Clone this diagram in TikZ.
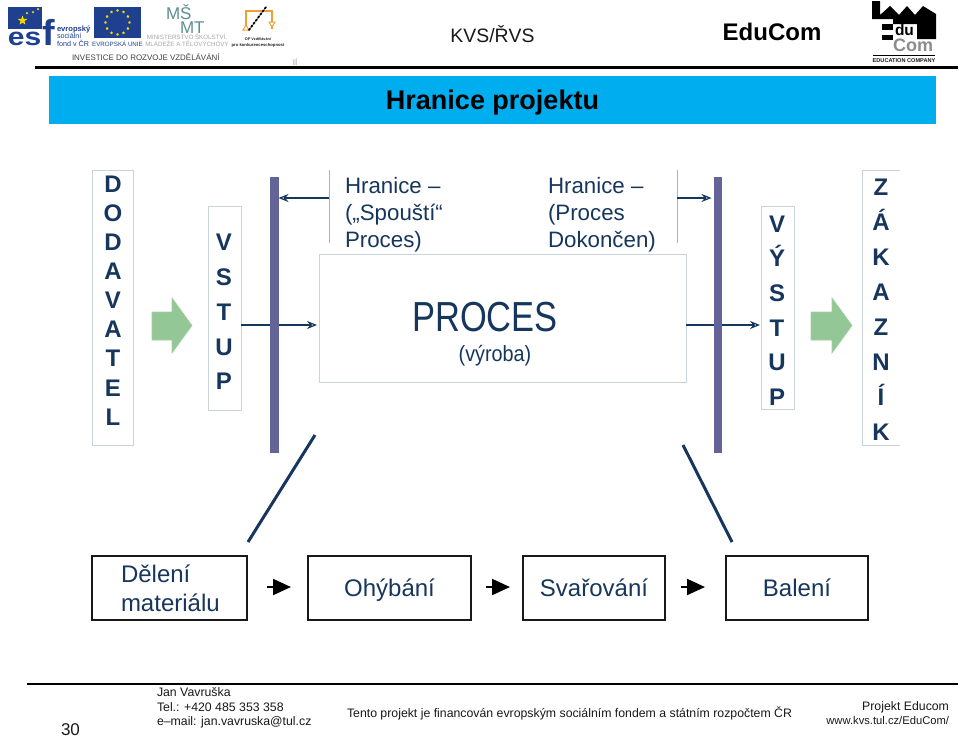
\documentclass[tikz,border=0pt]{standalone}
\usepackage{fontspec}
\setmainfont{Liberation Sans}
\usetikzlibrary{arrows.meta,shapes.geometric}
\definecolor{navy}{HTML}{17365D}
\definecolor{barc}{HTML}{646498}
\definecolor{greenarr}{HTML}{93C795}
\definecolor{greenedge}{HTML}{A5CFA6}
\definecolor{boxgrey}{HTML}{C9D3DA}
\definecolor{band}{HTML}{00ADEF}
\definecolor{esfblue}{HTML}{1F3F8F}
\definecolor{euyellow}{HTML}{F5D800}
\definecolor{msmt}{HTML}{5F8F93}
\definecolor{oporange}{HTML}{F0A030}
\newcommand{\fsz}[2]{\fontsize{#1}{#2}\selectfont}
\tikzset{
 every node/.style={inner sep=0pt,outer sep=0pt},
 greybox/.style={draw=boxgrey,line width=0.9pt,fill=white,minimum width=#1,anchor=north west},
 lettercol/.style={font=\fsz{24}{#1}\bfseries,text=navy,align=center},
 bar/.style={fill=barc,draw=none,anchor=north west},
 thinrule/.style={draw=boxgrey!85!black,line width=0.9pt},
 navyline/.style={draw=navy,line width=3pt},
 openarrow/.style={draw=navy,line width=2.3pt,-{Stealth[open,length=10pt,width=8pt,fill=white,line width=1.2pt]}},
 blackarrow/.style={draw=black,line width=2pt,-{Triangle[length=18pt,width=16pt]}},
 stepbox/.style={draw=black!90,line width=2pt,fill=white,anchor=north west,minimum height=64pt,font=\fsz{24}{29},text=navy},
 steptext/.style={text height=20pt,text depth=4pt,align=center},
 bigtext/.style={font=\fsz{22.3}{27},text=navy,align=left,anchor=north west},
 bigarrow/.style={fill=greenarr,draw=greenedge,line width=0.7pt},
 foot/.style={anchor=base west,font=\fsz{12.3}{15},text=black!90},
 footr/.style={anchor=base east,text=black!90},
 headrule/.style={draw=black,line width=2.4pt},
}
\begin{document}
\begin{tikzpicture}[x=1pt,y=-1pt]
\useasboundingbox[fill=white] (0,0) rectangle (960,737);
% ---- ESF logo
\fill[esfblue] (8,7) rectangle (42,29);
\node[star,star points=5,star point ratio=2.4,fill=euyellow,minimum size=10pt] (esfstar) at (22.5,20.5) {};
\node[circle,fill=euyellow,minimum size=2.5pt] (sa) at (27,13) {};
\node[circle,fill=euyellow,minimum size=2.5pt] (sb) at (33,12) {};
\node[circle,fill=euyellow,minimum size=2.5pt] (sc) at (38,9) {};
\node[anchor=base west,font=\fsz{25}{25}\bfseries,text=esfblue,xscale=1.2] (esfa) at (8,45) {es};
\node[anchor=base west,font=\fsz{36}{36}\bfseries,text=esfblue,xscale=1.05] (esfb) at (42,45) {f};
\node[anchor=base west,font=\fsz{7.6}{9}\bfseries,text=esfblue] (esf1) at (57,31) {evropský};
\node[anchor=base west,font=\fsz{7.2}{9},text=esfblue] (esf2) at (57,38) {sociální};
\node[anchor=base west,font=\fsz{7.2}{9},text=esfblue] (esf3) at (57,46.5) {fond v ČR};
% ---- EU flag
\fill[esfblue] (94,7) rectangle (141,38);
\foreach \a in {0,30,...,330}{\node[star,star points=5,fill=euyellow,minimum size=3pt] at ({117.5+12*cos(\a)},{22.5+12*sin(\a)}) {};}
\node[font=\fsz{6.2}{7},text=esfblue] (eu) at (117.5,43.5) {EVROPSKÁ UNIE};
% ---- MSMT
\node[anchor=base west,font=\fsz{17}{17},text=msmt] (msmta) at (166,19.5) {MŠ};
\node[anchor=base west,font=\fsz{17}{17},text=msmt] (msmtb) at (180,33) {MT};
\node[font=\fsz{6.2}{6.5},text=black!35,align=center] (msmttext) at (187,40.3) {MINISTERSTVO ŠKOLSTVÍ,\\MLÁDEŽE A TĚLOVÝCHOVY};
% ---- OP
\draw[oporange,line width=2.4pt] (246,29) -- (246,11) -- (272,11) -- (272,29);
\fill[white,draw=oporange,line width=1pt] (243,30) -- (246,25) -- (249,30) -- cycle;
\fill[white,draw=oporange,line width=1pt] (269,22) -- (272,27) -- (275,22) -- cycle;
\draw[black,line width=1.8pt,dotted,line cap=round] (249,30) -- (266,7);
\node[font=\fsz{3.8}{5}\bfseries,text=black!85,align=center] (optext) at (258,42.5) {OP Vzdělávání\\[0.4pt]\fsz{4.2}{5}\bfseries pro konkurenceschopnost};
\node[anchor=base west,font=\fsz{7.95}{10},text=black!75] (invest) at (72,60) {INVESTICE DO ROZVOJE VZDĚLÁVÁNÍ};
\node[anchor=base,font=\fsz{8}{9},text=black!40] (ii) at (295,65) {IÍ};
% ---- EduCom logo
\fill[black] (872,1) -- (880,1) -- (880,15) -- (890,6) -- (899,15) -- (907,6) -- (915,15) -- (923,6) -- (936,14) -- (936,39) -- (917,39) -- (917,24) -- (893,24) -- (893,19) -- (872,19) -- cycle;
\fill[black] (882,24) rectangle (893,30);
\fill[black] (882,35) rectangle (893,40);
\node[anchor=base west,font=\fsz{15.5}{16}\bfseries,text=black] (dulogo) at (895,35) {du};
\node[anchor=base west,font=\fsz{18}{18}\bfseries,text=black!45] (comlogo) at (893,51) {Com};
\draw[black,line width=0.6pt] (873,55) -- (935,55);
\node[font=\fsz{5.6}{6}\bfseries,text=black!90] (edutxt) at (904,60.5) {EDUCATION COMPANY};
% ---- header
\node[font=\fsz{19.4}{24},text=black!90] (kvs) at (492.5,34.5) {KVS/ŘVS};
\node[font=\fsz{24}{28}\bfseries,text=black] (educom) at (772,32) {EduCom};
\coordinate (hl) at (35,67.5); \coordinate (hr) at (958,67.5);
\draw[headrule] (hl) -- (hr);
\node[fill=band,anchor=north west,minimum width=887pt,minimum height=48pt] (titleband) at (49,76) {};
\node[font=\fsz{27}{32}\bfseries,text=black] (title) at (492.5,103) {Hranice projektu};
% ---- boxes with letters
\node[greybox=41pt,minimum height=275pt] (dod) at (92,170) {};
\node[lettercol=29.1] (dodt) at (113,300.5) {D\\O\\D\\A\\V\\A\\T\\E\\L};
\node[greybox=33pt,minimum height=204pt] (vst) at (208,206) {};
\node[lettercol=34.8] (vstt) at (224,312) {V\\S\\T\\U\\P};
\node[greybox=33pt,minimum height=203pt] (vys) at (761,206) {};
\node[lettercol=34.6] (vyst) at (777,310.5) {V\\Ý\\S\\T\\U\\P};
\coordinate (zt) at (900,170); \coordinate (zb) at (900,445);
\coordinate (zl1) at (862,170); \coordinate (zl2) at (862,445);
\draw[boxgrey,line width=0.9pt] (zt) -- (zl1) -- (zl2) -- (zb);
\node[lettercol=35] (zakt) at (881,310) {Z\\Á\\K\\A\\Z\\N\\Í\\K};
% ---- green arrows
\draw[bigarrow] (152,312) -- (172,312) -- (172,298) -- (192,325.5) -- (172,353) -- (172,340) -- (152,340) -- cycle;
\draw[bigarrow] (811,312) -- (832,312) -- (832,298) -- (852,325.5) -- (832,353) -- (832,340) -- (811,340) -- cycle;
% ---- process box
\node[greybox=367pt,minimum height=128pt] (proc) at (319,254) {};
\node[font=\fsz{42}{46},text=navy,xscale=0.82] (proct) at (485,317) {PROCES};
\node[font=\fsz{22}{26},text=navy,xscale=0.9] (vyr) at (495,356) {(výroba)};
% ---- bars
\node[bar,minimum width=8.5pt,minimum height=276pt] (barl) at (270,177) {};
\node[bar,minimum width=8.5pt,minimum height=276pt] (barr) at (713.5,177) {};
% ---- Hranice texts and rules
\coordinate (rl1) at (329,170); \coordinate (rl2) at (329,243);
\coordinate (rr1) at (677,170); \coordinate (rr2) at (677,243);
\draw[thinrule] (rl1) -- (rl2);
\draw[thinrule] (rr1) -- (rr2);
\node[bigtext] (hr1) at (345,177.5) {Hranice –\\(„Spouští“\\Proces)};
\node[bigtext] (hr2) at (548,177.5) {Hranice –\\(Proces\\Dokončen)};
\coordinate (ah) at (0,198); \coordinate (am) at (0,325);
\draw[openarrow] (rl1 |- ah) -- (barl.east |- ah);
\draw[openarrow] (rr1 |- ah) -- ([xshift=-2pt]barr.west |- ah);
\draw[openarrow] (vst.east |- am) -- ([xshift=-2pt]proc.west |- am);
\draw[openarrow] (proc.east |- am) -- ([xshift=-1pt]vys.west |- am);
\fill[barc] (barl.north west) rectangle (barl.south east);
\fill[barc] (barr.north west) rectangle (barr.south east);
% ---- step boxes
\node[stepbox,minimum width=155pt,text width=97pt,align=left] (s1) at (92,556) {Dělení\\materiálu};
\node[stepbox,steptext,minimum width=163pt] (s2) at (308,556) {Ohýbání};
\node[stepbox,steptext,minimum width=142pt] (s3) at (523,556) {Svařování};
\node[stepbox,steptext,minimum width=142pt] (s4) at (726,556) {Balení};
\coordinate (am1) at (0,587);
\draw[blackarrow] ([xshift=20pt]s1.east |- am1) -- ([xshift=-17pt]s2.west |- am1);
\draw[blackarrow] ([xshift=15pt]s2.east |- am1) -- ([xshift=-13pt]s3.west |- am1);
\draw[blackarrow] ([xshift=16pt]s3.east |- am1) -- ([xshift=-21pt]s4.west |- am1);
% ---- slanted lines
\coordinate (ll1) at (315,435); \coordinate (lr1) at (683,445);
\coordinate (ll2) at (248,542); \coordinate (lr2) at (732,542);
\draw[navyline] (ll1) -- (ll2);
\draw[navyline] (lr1) -- (lr2);
% ---- footer
\coordinate (fl) at (27,684); \coordinate (fr) at (958,684);
\draw[black,line width=1.2pt] (fl) -- (fr);
\node[anchor=base west,font=\fsz{17}{18},text=black!90] (pg) at (61,735) {30};
\node[foot] (f1) at (157,696) {Jan Vavruška};
\node[foot] (f2) at (157,711) {Tel.: +420 485 353 358};
\node[foot] (f3) at (157,725.5) {e–mail: jan.vavruska@tul.cz};
\node[foot] (f4) at (347,717) {Tento projekt je financován evropským sociálním fondem a státním rozpočtem ČR};
\node[footr,font=\fsz{12.3}{15}] (f5) at (949,710.5) {Projekt Educom};
\node[footr,font=\fsz{11.2}{14}] (f6) at (949,724.5) {www.kvs.tul.cz/EduCom/};
\end{tikzpicture}
\end{document}
